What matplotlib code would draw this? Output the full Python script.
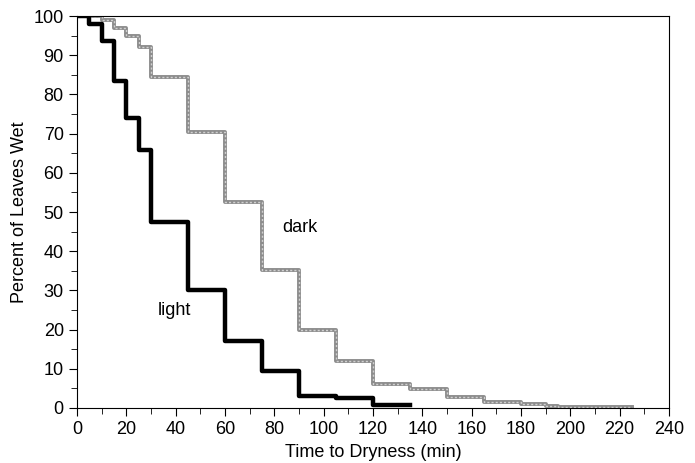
import matplotlib.pyplot as plt
from matplotlib.ticker import MultipleLocator

plt.rcParams['font.family'] = ['Liberation Sans', 'DejaVu Sans']

# step curves: time (min) where the value changes, value after the change
light_t = [0, 5, 10, 15, 20, 25, 30, 45, 60, 75, 90, 105, 120, 135]
light_y = [100, 98, 93.5, 83.5, 74, 65.7, 47.5, 30, 17, 9.5, 3, 2.5, 0.8, 0.8]

dark_t = [0, 10, 15, 20, 25, 30, 45, 60, 75, 90, 105, 120, 135, 150, 165, 180,
          190, 195, 225]
dark_y = [100, 99, 97, 94.8, 92.2, 84.5, 70.5, 52.5, 35.2, 20, 12, 6, 4.8, 2.9,
          1.6, 1.0, 0.5, 0.3, 0.3]

fig = plt.figure(figsize=(6.95, 4.63), dpi=100)
ax = fig.add_axes([0.1108, 0.1188, 0.8518, 0.8466])

ax.step(dark_t, dark_y, where='post', color='#8c8c8c', lw=2.8)
ax.step(dark_t, dark_y, where='post', color='#d0d0d0', lw=1.0, ls=(0, (1.5, 1.5)))
ax.step(light_t, light_y, where='post', color='black', lw=3.2)

ax.text(90.5, 46, 'dark', fontsize=13, ha='center', va='center')
ax.text(39.5, 25, 'light', fontsize=13, ha='center', va='center')

ax.set_xlim(0, 240)
ax.set_ylim(0, 100)
ax.xaxis.set_major_locator(MultipleLocator(20))
ax.xaxis.set_minor_locator(MultipleLocator(10))
ax.yaxis.set_major_locator(MultipleLocator(10))
ax.yaxis.set_minor_locator(MultipleLocator(5))
ax.tick_params(which='both', direction='out', labelsize=13, top=False, right=False)
ax.tick_params(which='major', length=6)
ax.tick_params(which='minor', length=4)
ax.set_xlabel('Time to Dryness (min)', fontsize=13)
ax.set_ylabel('Percent of Leaves Wet', fontsize=13)

fig.savefig('out.png', dpi=100)
